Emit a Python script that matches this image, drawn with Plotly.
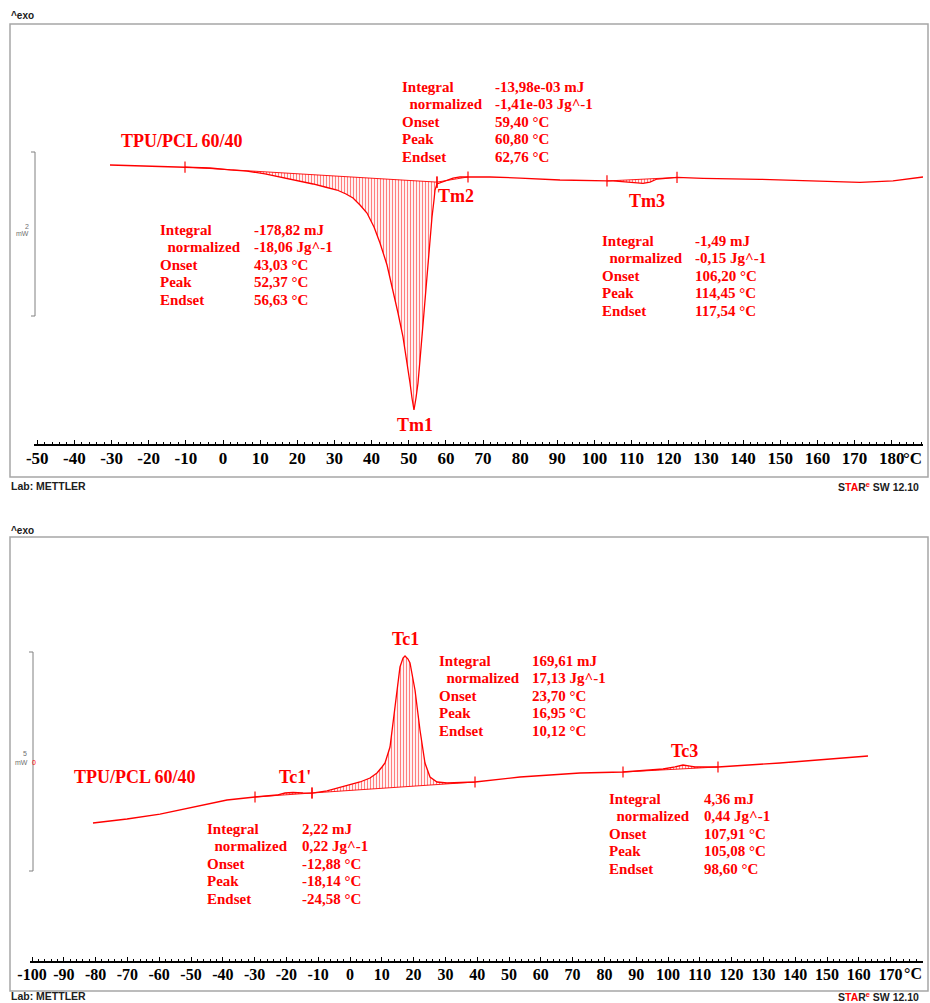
import plotly.graph_objects as go

W, H = 930, 1003
RED = "#ff0000"
SERIF = "Liberation Serif"
SANS = "Liberation Sans"

# ---------------- DATA : heating run (top) ----------------
heat_T = [-30.42, -19.65, -10.23, -3.50, 1.88, 6.46, 11.31, 15.34, 19.92, 24.23,
          27.46, 30.69, 33.11, 35.00, 36.88, 38.76, 40.65, 42.26, 44.15, 45.76,
          47.11, 48.45, 49.53, 50.34, 50.87, 51.41, 51.95, 52.49, 53.03, 53.84,
          54.37, 55.18, 55.72, 56.26, 56.80, 57.07, 57.60, 58.41, 59.22, 60.57,
          61.91, 63.80, 65.95, 71.87, 79.95, 90.71, 103.36, 104.98, 109.02, 113.06,
          114.94, 116.82, 122.21, 129.21, 144.55, 162.58, 171.47, 180.35, 188.43]
heat_mW = [0.000, -0.012, -0.025, -0.037, -0.061, -0.074, -0.110, -0.147, -0.184, -0.233,
           -0.270, -0.307, -0.356, -0.405, -0.491, -0.589, -0.761, -0.957, -1.227, -1.534,
           -1.816, -2.110, -2.417, -2.675, -2.859, -3.006, -2.859, -2.675, -2.393, -1.939,
           -1.595, -1.166, -0.883, -0.638, -0.429, -0.307, -0.233, -0.221, -0.209, -0.184,
           -0.160, -0.147, -0.147, -0.147, -0.160, -0.184, -0.196, -0.196, -0.209, -0.225,
           -0.209, -0.172, -0.153, -0.164, -0.176, -0.196, -0.212, -0.196, -0.147]

# integration limits (°C) and baseline values at the limits (mW)
tm1_lim = [-10.23, 57.60]; tm1_base = [-0.025, -0.210]
tm2_lim = [57.60, 65.95];  tm2_base = [-0.210, -0.147]
tm3_lim = [103.36, 122.21]; tm3_base = [-0.196, -0.153]

# ---------------- DATA : cooling run (bottom) ----------------
cool_T = [-80.82, -70.13, -59.75, -49.37, -38.68, -29.87, -22.96, -20.44, -17.92, -14.78,
          -11.95, -7.23, -2.20, 3.14, 6.29, 8.49, 10.06, 11.01, 12.58, 13.52,
          14.78, 15.72, 16.67, 17.30, 18.24, 18.87, 20.44, 22.01, 23.58, 25.16,
          27.36, 30.50, 39.31, 44.97, 53.46, 62.89, 72.33, 85.85, 94.34, 98.43,
          102.20, 104.72, 106.92, 108.49, 115.72, 135.22, 162.89]
cool_mW = [0.000, 0.091, 0.205, 0.365, 0.525, 0.594, 0.639, 0.685, 0.696, 0.685,
           0.680, 0.731, 0.822, 0.936, 1.027, 1.142, 1.279, 1.370, 1.735, 2.283,
           3.037, 3.562, 3.767, 3.813, 3.744, 3.653, 3.037, 2.123, 1.370, 1.050,
           0.936, 0.913, 0.936, 0.982, 1.050, 1.096, 1.142, 1.164, 1.199, 1.233,
           1.279, 1.324, 1.301, 1.279, 1.279, 1.370, 1.530]

tc1p_lim = [-29.87, -11.95]; tc1p_base = [0.594, 0.685]
tc1_lim = [-11.95, 39.31];   tc1_base = [0.685, 0.936]
tc3_lim = [85.85, 115.72];   tc3_base = [1.164, 1.279]

# ---------------- tick labels ----------------
top_ticks = list(range(-50, 181, 10))
top_ticktext = [str(v) for v in top_ticks]
bot_ticks = list(range(-100, 171, 10))
bot_ticktext = [str(v) for v in bot_ticks]

# ---------------- evaluation texts ----------------
eval_labels = ["Integral", "\u00a0\u00a0normalized", "Onset", "Peak", "Endset"]
tm1_values = ["-178,82 mJ", "-18,06 Jg^-1", "43,03 °C", "52,37 °C", "56,63 °C"]
tm2_values = ["-13,98e-03 mJ", "-1,41e-03 Jg^-1", "59,40 °C", "60,80 °C", "62,76 °C"]
tm3_values = ["-1,49 mJ", "-0,15 Jg^-1", "106,20 °C", "114,45 °C", "117,54 °C"]
tc1_values = ["169,61 mJ", "17,13 Jg^-1", "23,70 °C", "16,95 °C", "10,12 °C"]
tc1p_values = ["2,22 mJ", "0,22 Jg^-1", "-12,88 °C", "-18,14 °C", "-24,58 °C"]
tc3_values = ["4,36 mJ", "0,44 Jg^-1", "107,91 °C", "105,08 °C", "98,60 °C"]
sample_name = "TPU/PCL 60/40"


def px(x):
    return x / W


def py(y):
    return 1 - y / H


fig = go.Figure()


def add_run(T, mW, xa, ya, regions):
    fig.add_trace(go.Scatter(x=T, y=mW, mode="lines", line=dict(color=RED, width=1.3),
                             xaxis=xa, yaxis=ya, hoverinfo="skip", showlegend=False))
    for lim, base in regions:
        lo, hi = lim
        inner = [(t, v) for t, v in zip(T, mW) if lo < t < hi]
        xs = [lo] + [p[0] for p in inner] + [hi]
        ys = [base[0]] + [p[1] for p in inner] + [base[1]]
        fig.add_trace(go.Scatter(x=xs, y=ys, mode="lines", fill="toself",
                                 line=dict(width=0, color="rgba(0,0,0,0)"),
                                 fillcolor="rgba(255,255,255,0)",
                                 fillpattern=dict(shape="|", fgcolor=RED,
                                                  bgcolor="rgba(255,255,255,0)",
                                                  size=3, solidity=0.4),
                                 xaxis=xa, yaxis=ya, hoverinfo="skip", showlegend=False))
        fig.add_trace(go.Scatter(x=lim, y=base, mode="lines+markers",
                                 line=dict(color=RED, width=0.9),
                                 marker=dict(symbol="line-ns-open", size=8,
                                             line=dict(color=RED, width=1.2)),
                                 xaxis=xa, yaxis=ya, hoverinfo="skip", showlegend=False))


add_run(heat_T, heat_mW, "x", "y",
        [(tm1_lim, tm1_base), (tm2_lim, tm2_base), (tm3_lim, tm3_base)])
add_run(cool_T, cool_mW, "x2", "y2",
        [(tc1p_lim, tc1p_base), (tc1_lim, tc1_base), (tc3_lim, tc3_base)])

# ---------------- axes ----------------
TOP_AX = (34, 923)
BOT_AX = (30, 923)
TOP_AX_Y, BOT_AX_Y = 444, 961
TOP_FR = (24, 477)
BOT_FR = (537, 991)

# pixel mapping (layout constants)
top_x0, top_s = 223.0, 3.715
bot_x0, bot_s = 350.0, 3.18
top_y0, top_ys = 165.0, 81.5
bot_y0, bot_ys = 823.0, 43.8


def xaxis_cfg(ax, ticks, text, x0, s, fsize, anchor):
    return dict(domain=[px(ax[0]), px(ax[1])], anchor=anchor,
                range=[(ax[0] - x0) / s, (ax[1] - x0) / s],
                tickmode="array", tickvals=ticks, ticktext=text,
                ticks="inside", ticklen=4, tickwidth=1, tickcolor="black",
                minor=dict(tickmode="linear", tick0=0, dtick=2, ticks="inside",
                           ticklen=2, tickwidth=1, tickcolor="black"),
                showline=True, linecolor="black", linewidth=1.6,
                showgrid=False, zeroline=False, fixedrange=True,
                automargin=False, ticklabelstandoff=-2,
                tickfont=dict(family=SERIF, size=fsize, color="black", weight="bold"))


fig.update_layout(
    width=W, height=H, margin=dict(l=0, r=0, t=0, b=0, pad=0, autoexpand=False),
    paper_bgcolor="white", plot_bgcolor="rgba(0,0,0,0)",
    showlegend=False,
    xaxis=xaxis_cfg(TOP_AX, top_ticks, top_ticktext, top_x0, top_s, 17, "y"),
    xaxis2=xaxis_cfg(BOT_AX, bot_ticks, bot_ticktext, bot_x0, bot_s, 16, "y2"),
    yaxis=dict(domain=[py(TOP_AX_Y), py(TOP_FR[0])], anchor="x",
               range=[(top_y0 - TOP_AX_Y) / top_ys, (top_y0 - TOP_FR[0]) / top_ys],
               visible=False, fixedrange=True, automargin=False),
    yaxis2=dict(domain=[py(BOT_AX_Y), py(BOT_FR[0])], anchor="x2",
                range=[(bot_y0 - BOT_AX_Y) / bot_ys, (bot_y0 - BOT_FR[0]) / bot_ys],
                visible=False, fixedrange=True, automargin=False),
)

shapes = []
for (t, b) in (TOP_FR, BOT_FR):
    shapes.append(dict(type="rect", xref="paper", yref="paper",
                       x0=px(10), x1=px(928), y0=py(b), y1=py(t),
                       line=dict(color="#a6a6a6", width=1.5)))
# scale bars
for (bx, y1, y2) in ((35, 152, 316), (33, 652, 871)):
    shapes.append(dict(type="line", xref="paper", yref="paper",
                       x0=px(bx), x1=px(bx), y0=py(y1), y1=py(y2),
                       line=dict(color="#808080", width=1)))
    for yy in (y1, y2):
        shapes.append(dict(type="line", xref="paper", yref="paper",
                           x0=px(bx - 4), x1=px(bx), y0=py(yy), y1=py(yy),
                           line=dict(color="#808080", width=1)))
fig.update_layout(shapes=shapes)

ann = []


def text(x, y, s, size, color=RED, family=SERIF, bold=True, xanchor="left"):
    ann.append(dict(xref="paper", yref="paper", x=px(x), y=py(y), text=s,
                    showarrow=False, xanchor=xanchor, yanchor="middle",
                    font=dict(family=family, size=size, color=color,
                              weight="bold" if bold else "normal")))


def block(lx, vx, y0, values):
    for i, (lab, val) in enumerate(zip(eval_labels, values)):
        yy = y0 + i * 17.4
        text(lx, yy, lab, 15)
        text(vx, yy, val, 15)


block(158, 252, 230, tm1_values)
block(400, 493, 87, tm2_values)
block(600, 693, 241, tm3_values)
block(437, 530, 661, tc1_values)
block(205, 300, 829, tc1p_values)
block(607, 702, 799, tc3_values)

text(119, 141, sample_name, 18)
text(72, 777, sample_name, 18)
text(415, 425, "Tm1", 18, xanchor="center")
text(456, 196, "Tm2", 18, xanchor="center")
text(647, 201, "Tm3", 18, xanchor="center")
text(405, 639, "Tc1", 18, xanchor="center")
text(295, 777, "Tc1'", 18, xanchor="center")
text(684, 751, "Tc3", 18, xanchor="center")

# unit labels at axis ends
text(924, 458, "°C", 17, color="black", xanchor="right")
text(924, 973, "°C", 16, color="black", xanchor="right")

# scale bar labels
GRAY = "#707070"
text(31, 226, "2", 7, color=GRAY, family=SANS, bold=False, xanchor="right")
text(31, 234, "mW", 7, color=GRAY, family=SANS, bold=False, xanchor="right")
text(29, 753, "5", 7, color=GRAY, family=SANS, bold=False, xanchor="right")
text(30, 762, "mW", 7, color=GRAY, family=SANS, bold=False, xanchor="right")
text(30, 762, "0", 7, color=RED, family=SANS, bold=False)

# header / footer texts
for (ty, by) in ((16, 486), (530, 996)):
    text(9, ty, "^exo", 10, color="#202020", family=SANS)
    text(9, by, "Lab: METTLER", 10.5, color="#202020", family=SANS)
    text(921, by, "S<span style='color:#ff0000'>TA</span>R<sup><span style='color:#ff0000'>e</span></sup> SW 12.10",
         10.5, color="#202020", family=SANS, xanchor="right")

fig.update_layout(annotations=ann)

fig.write_html("out.html", config={"displayModeBar": False},
               post_script="document.body.style.margin='0';")
